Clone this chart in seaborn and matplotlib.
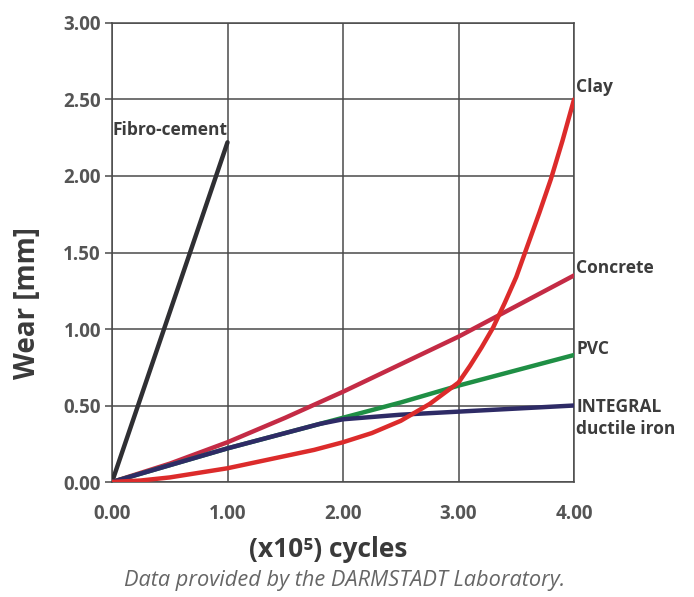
import numpy as np
import pandas as pd
import seaborn as sns
import matplotlib.pyplot as plt

# values (x in 10^5 cycles, wear in mm)
fibro_x = [0.0, 1.0]
fibro_y = [0.0, 2.22]

clay_x = [0.0, 0.25, 0.5, 0.75, 1.0, 1.25, 1.5, 1.75, 2.0, 2.25, 2.5, 2.75, 3.0,
          3.1, 3.2, 3.3, 3.4, 3.5, 3.6, 3.7, 3.8, 3.9, 4.0]
clay_y = [0.0, 0.01, 0.03, 0.06, 0.09, 0.13, 0.17, 0.21, 0.26, 0.32, 0.40, 0.51, 0.65,
          0.76, 0.88, 1.01, 1.17, 1.34, 1.55, 1.76, 1.98, 2.23, 2.5]

concrete_x = [0.0, 0.5, 1.0, 1.5, 2.0, 2.5, 3.0, 3.5, 4.0]
concrete_y = [0.0, 0.12, 0.26, 0.42, 0.59, 0.77, 0.95, 1.15, 1.35]

pvc_x = [0.0, 0.5, 1.0, 1.5, 2.0, 2.5, 3.0, 3.5, 4.0]
pvc_y = [0.0, 0.11, 0.22, 0.32, 0.42, 0.52, 0.63, 0.73, 0.83]

integral_x = [0.0, 0.5, 1.0, 1.5, 1.8, 2.0, 2.5, 3.0, 3.5, 4.0]
integral_y = [0.0, 0.11, 0.22, 0.32, 0.38, 0.41, 0.44, 0.46, 0.48, 0.50]

x_ticks = [0.0, 1.0, 2.0, 3.0, 4.0]
y_ticks = [0.0, 0.5, 1.0, 1.5, 2.0, 2.5, 3.0]

series = [
    ("Fibro-cement", fibro_x, fibro_y, "#2f2f33"),
    ("Concrete", concrete_x, concrete_y, "#c42b45"),
    ("PVC", pvc_x, pvc_y, "#1f8f45"),
    ("INTEGRAL", integral_x, integral_y, "#2e2b66"),
    ("Clay", clay_x, clay_y, "#dc2b2b"),
]

rows = []
for name, xs, ys, _ in series:
    for a, b in zip(xs, ys):
        rows.append({"material": name, "cycles": a, "wear": b})
df = pd.DataFrame(rows)

sns.set_style("white")
plt.rcParams['font.family'] = ['Open Sans', 'DejaVu Sans']

fig = plt.figure(figsize=(6.94, 5.97), dpi=100)
ax = fig.add_axes([0.1614, 0.1926, 0.6657, 0.7689])

palette = {name: c for name, _, _, c in series}
sns.lineplot(data=df, x="cycles", y="wear", hue="material", palette=palette,
             hue_order=[s[0] for s in series], sort=False, estimator=None,
             linewidth=3.2, legend=False, ax=ax, zorder=3)

ax.set_xlim(0, 4)
ax.set_ylim(0, 3)
ax.set_xticks(x_ticks)
ax.set_yticks(y_ticks)
ax.set_xticklabels([f"{v:.2f}" for v in x_ticks])
ax.set_yticklabels([f"{v:.2f}" for v in y_ticks])
ax.grid(True, color="#4a4a4a", linewidth=1.1)
for sp in ax.spines.values():
    sp.set_color("#4a4a4a")
    sp.set_linewidth(1.1)
ax.tick_params(axis="y", which="both", left=True, length=5, width=1.1, color="#4a4a4a",
               labelsize=13.5, labelcolor="#555555", pad=3)
ax.tick_params(axis="x", which="both", bottom=False, labelsize=13.5, labelcolor="#555555", pad=12)
for lab in ax.get_xticklabels() + ax.get_yticklabels():
    lab.set_fontweight("bold")

ax.set_xlabel("(x10⁵) cycles", fontsize=19, fontweight="bold", color="#3a3a3a")
ax.set_ylabel("Wear [mm]", fontsize=20, fontweight="bold", color="#3a3a3a")
ax.xaxis.set_label_coords(0.468, -0.148)
ax.yaxis.set_label_coords(-0.184, 0.39)
ax.xaxis.label.set_va("center")
ax.yaxis.label.set_va("center")

lab_kw = dict(fontsize=12.5, fontweight="bold", color="#3c3c3c", clip_on=False)
ax.text(4.02, 2.58, "Clay", va="center", ha="left", **lab_kw)
ax.text(4.02, 1.40, "Concrete", va="center", ha="left", **lab_kw)
ax.text(4.02, 0.87, "PVC", va="center", ha="left", **lab_kw)
ax.text(4.02, 0.42, "INTEGRAL\nductile iron", va="center", ha="left", linespacing=1.3, **lab_kw)
ax.text(1.0, 2.30, "Fibro-cement", va="center", ha="right", **lab_kw)

fig.text(0.497, 0.027, "Data provided by the DARMSTADT Laboratory.", ha="center", va="center",
         fontsize=15.7, style="italic", color="#666666")

fig.savefig("out.png", dpi=100, facecolor="white")
